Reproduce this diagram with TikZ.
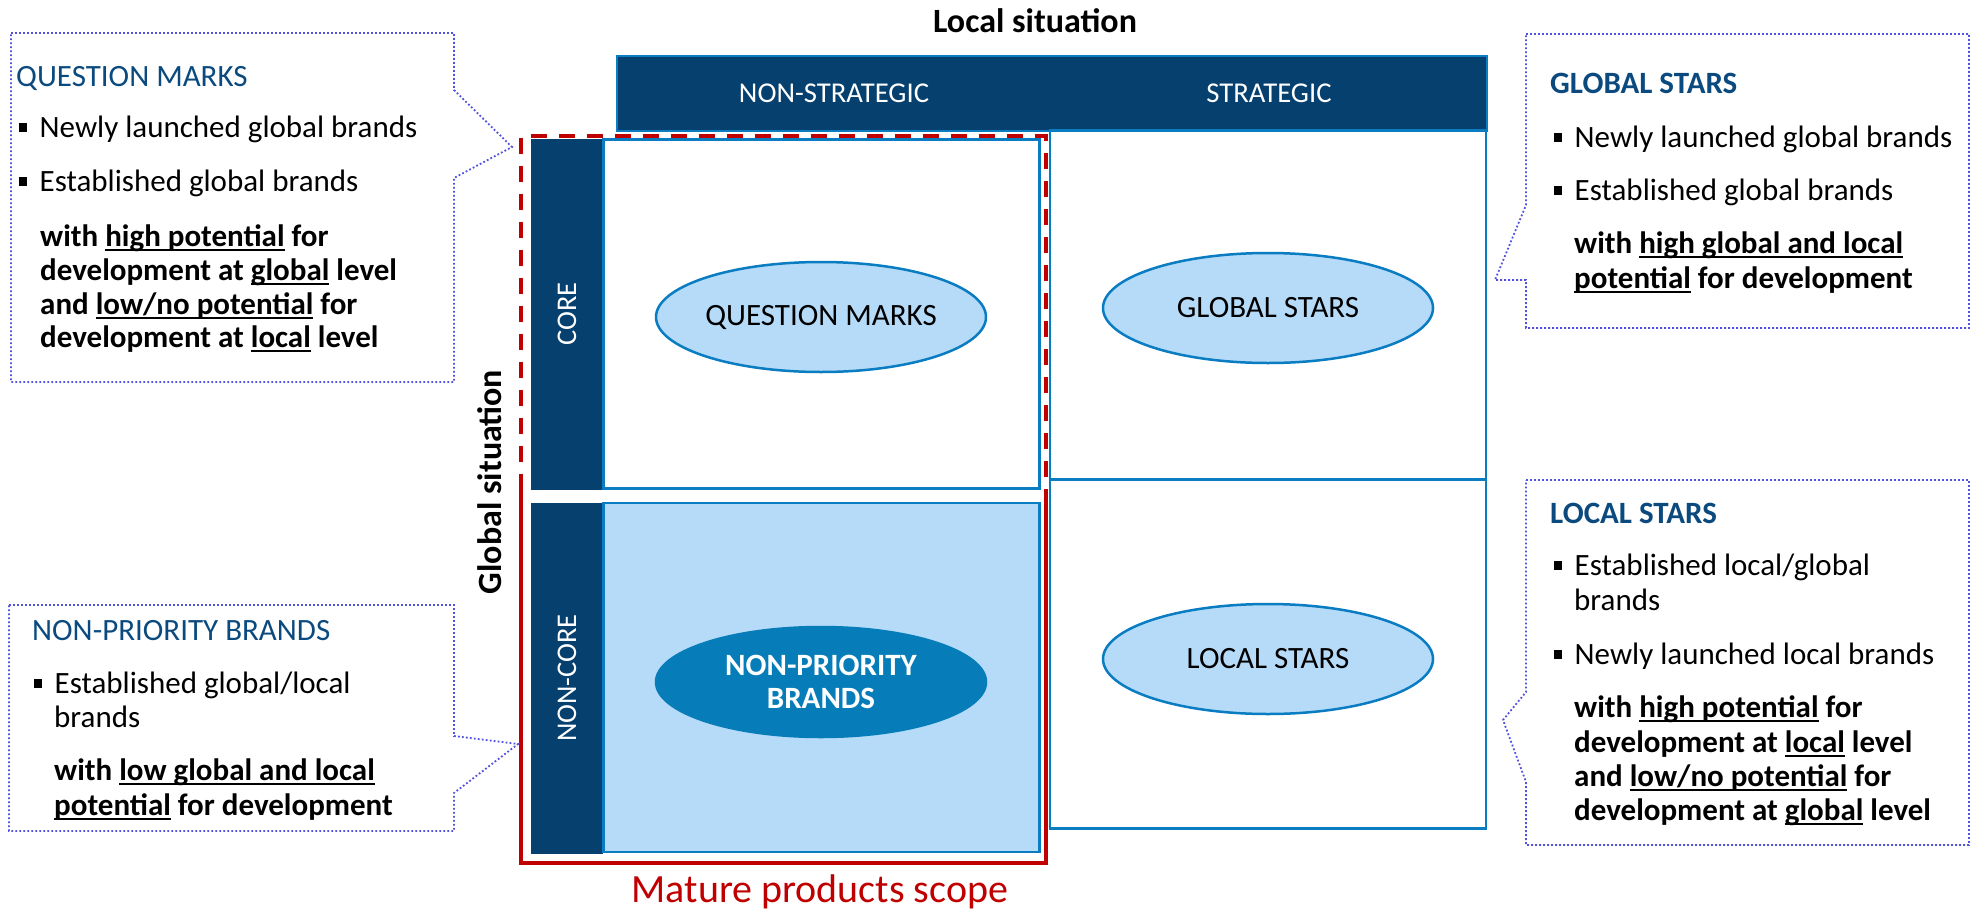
\documentclass[tikz,border=0pt]{standalone}
\usepackage{fontspec}
\setmainfont{Carlito}
\usetikzlibrary{shapes.geometric}
\definecolor{Navy}{HTML}{05406F}
\definecolor{CellBlue}{HTML}{0A7CC1}
\definecolor{LBlue}{HTML}{B5DBF9}
\definecolor{MBlue}{HTML}{067DB8}
\definecolor{ScopeRed}{HTML}{C00000}
\definecolor{Dots}{HTML}{5252DE}
\definecolor{TitleBlue}{HTML}{0B4A7E}
\newsavebox{\ulbox}
\newcommand{\ulw}[1]{\sbox{\ulbox}{#1}\rlap{\rule[-5pt]{\wd\ulbox}{1.8pt}}\usebox{\ulbox}}
\newcommand{\fsz}[1]{\fontsize{#1}{#1}\selectfont}
\newcommand{\blt}{\rule[5pt]{8pt}{9pt}\hspace{12.5pt}}

\tikzset{
    cell/.style={draw=CellBlue, line width=2.5pt, minimum width=436pt, minimum height=349pt, inner sep=0pt},
    blob/.style={ellipse, draw=CellBlue, line width=2.5pt, fill=LBlue, minimum width=330pt, minimum height=110pt, inner sep=0pt, font=\fsz{31}},
    bar/.style={fill=Navy, rotate=90, minimum width=351pt, minimum height=72pt, inner sep=0pt, text=white, font=\fsz{28.5}},
    mature/.style={ScopeRed, line width=4.5pt},
    bubble/.style={Dots, line width=1.8pt, dash pattern=on 1.8pt off 2.2pt},
    txt/.style={anchor=base west, inner sep=0pt, font=\fsz{31}},
    bld/.style={txt, font=\fsz{31}\bfseries},
}

\begin{document}
\begin{tikzpicture}[x=1pt, y=-1pt]

    \useasboundingbox (0,0) rectangle (1986,910);

    % axis labels
    \node[anchor=base, inner sep=0pt, font=\fsz{34}\bfseries] (localsit) at (1035,32) {Local situation};
    \node[rotate=90, inner sep=0pt, font=\fsz{34}\bfseries] (globalsit) at (490,482) {Global situation};

    % header
    \node[fill=Navy, draw=CellBlue, line width=1.5pt, minimum width=870pt, minimum height=75pt] (header) at (1052,93.5) {};
    \node[anchor=base, inner sep=0pt, text=white, font=\fsz{28.7}] (nonstrat) at (834,102) {NON-STRATEGIC};
    \node[anchor=base, inner sep=0pt, text=white, font=\fsz{28.7}] (strat) at (1269,102) {STRATEGIC};

    % matrix
    \node[bar] (core) at (567,314) {CORE};
    \node[bar] (noncore) at (567,678) {NON-CORE};
    \node[cell, fill=white] (qmcell) at (821.5,314) {};
    \node[cell, fill=LBlue] (npcell) at (821.5,677.5) {};
    \node[cell, fill=white] (gscell) at (1268,305) {};
    \node[cell, fill=white] (lscell) at (1268,654) {};

    \node[blob] (qm) at (821,317) {QUESTION MARKS};
    \node[blob, draw=MBlue, fill=MBlue, text=white, font=\fontsize{31}{33}\selectfont\bfseries, align=center] (np) at (821,682) {NON-PRIORITY\\BRANDS};
    \node[blob] (gs) at (1268,308) {GLOBAL STARS};
    \node[blob] (ls) at (1268,659) {LOCAL STARS};

    % mature products scope
    \draw[mature, dash pattern=on 16pt off 12pt] (521,490) -- (521,136) -- (1046,136) -- (1046,490);
    \draw[mature] (521,490) -- (521,863) -- (1046,863) -- (1046,490);
    \node[anchor=base, inner sep=0pt, text=ScopeRed, font=\fsz{40}] (scopelbl) at (820,902) {Mature products scope};

    % callouts
    \draw[bubble] (11,33) -- (454,33) -- (454,90) -- (512,147) -- (454,178) -- (454,382) -- (11,382) -- cycle;
    \draw[bubble] (9,605) -- (454,605) -- (454,736) -- (518,744) -- (454,793) -- (454,831) -- (9,831) -- cycle;
    \draw[bubble] (1526,34) -- (1969,34) -- (1969,328) -- (1526,328) -- (1526,280) -- (1495,280) -- (1526,205) -- cycle;
    \draw[bubble] (1526,480) -- (1969,480) -- (1969,845) -- (1526,845) -- (1526,782) -- (1503,720) -- (1526,692) -- cycle;

    \node[txt, text=TitleBlue] (qmtitle) at (16,86) {QUESTION MARKS};
    \node[txt] (qmb1) at (19,137) {\blt Newly launched global brands};
    \node[txt] (qmb2) at (19,191) {\blt Established global brands};
    \node[bld] (qml1) at (40,246) {with \ulw{high potential} for};
    \node[bld] (qml2) at (40,280) {development at \ulw{global} level};
    \node[bld] (qml3) at (40,314) {and \ulw{low/no potential} for};
    \node[bld] (qml4) at (40,347) {development at \ulw{local} level};

    \node[txt, text=TitleBlue] (nptitle) at (32,640) {NON-PRIORITY BRANDS};
    \node[txt] (npb1) at (34,693) {\blt Established global/local};
    \node[txt] (npb1b) at (54,727) {brands};
    \node[bld] (npl1) at (54,780) {with \ulw{low global and local}};
    \node[bld] (npl2) at (54,815) {\ulw{potential} for development};

    \node[bld, text=TitleBlue] (gstitle) at (1550,93) {GLOBAL STARS};
    \node[txt] (gsb1) at (1554,147) {\blt Newly launched global brands};
    \node[txt] (gsb2) at (1554,200) {\blt Established global brands};
    \node[bld] (gsl1) at (1574,253) {with \ulw{high global and local}};
    \node[bld] (gsl2) at (1574,288) {\ulw{potential} for development};

    \node[bld, text=TitleBlue] (lstitle) at (1550,523) {LOCAL STARS};
    \node[txt] (lsb1) at (1554,575) {\blt Established local/global};
    \node[txt] (lsb1b) at (1574,610) {brands};
    \node[txt] (lsb2) at (1554,664) {\blt Newly launched local brands};
    \node[bld] (lsl1) at (1574,717) {with \ulw{high potential} for};
    \node[bld] (lsl2) at (1574,752) {development at \ulw{local} level};
    \node[bld] (lsl3) at (1574,786) {and \ulw{low/no potential} for};
    \node[bld] (lsl4) at (1574,820) {development at \ulw{global} level};
\end{tikzpicture}
\end{document}
